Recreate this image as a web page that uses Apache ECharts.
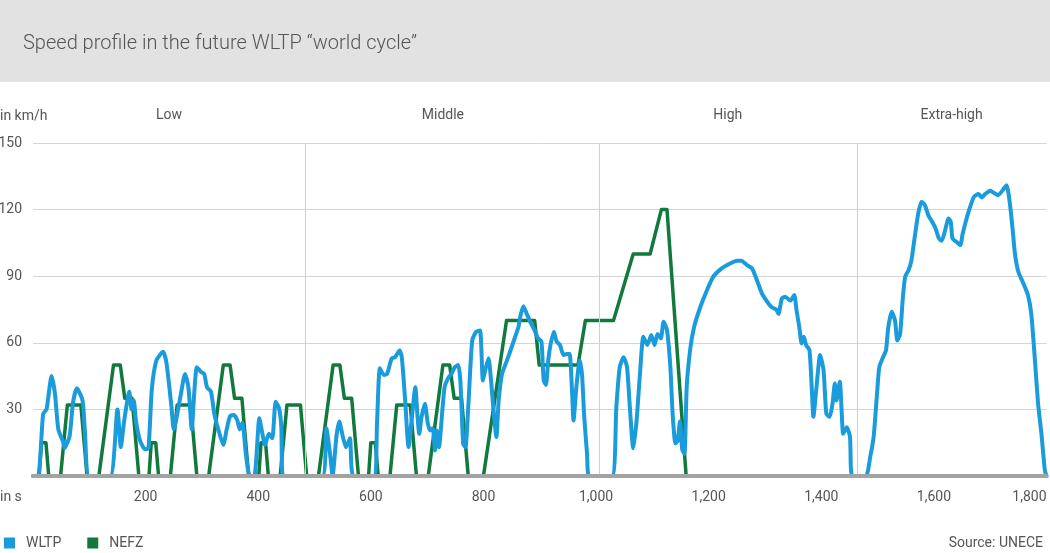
<!DOCTYPE html>
<html>
<head>
<meta charset="utf-8">
<title>WLTP speed profile</title>
<script src="https://cdn.jsdelivr.net/npm/echarts@6/dist/echarts.min.js"></script>
<style>
  html, body { margin: 0; padding: 0; background: #fff; }
  #main { width: 1050px; height: 553px; }
</style>
</head>
<body>
<div id="main"></div>
<script>
// speed in km/h over time in s
var wltp = [
  [0,0],[9,0],[18,28],[24,30],[33,45],[39,37],[45,21],[54,15],[56,12.5],[65,18],[71,33],[78,39.5],
  [88,34],[92,21],[100,0],[137,0],[150,30],[156,13],[162,25],[171,38],[175,30],[179,34],[183,24.5],
  [190,16],[199,12],[205,12.5],[211,39],[219,52],[231,56],[237,51],[246,31],[250,21],[262,36],
  [270,46],[276,40],[282,21],[286,36],[291,49],[298,47],[304,46],[309,40],[316,38],[322,28],[329,21],
  [338,14],[344,21],[350,27],[357,27.5],[363,25],[367,21],[372,24],[378,10],[385,0],[393,0],[402,26],
  [406,21],[412,14],[419,19],[425,17],[431,33.5],[437,30.5],[441,22],[444,0],
  [514,0],[521,21.5],[528,9],[532,0],[539,18],[544,24.5],[550,18],[556,13],[563,17],[569,0],
  [605,0],[611,24],[616,48.5],[623,45.5],[629,46],[637,53],[643,53.5],[651,56.5],[655,53.5],[661,34],
  [667,13],[673,26.5],[679,40],[683,26.5],[686,19],[690,26.5],[696,32.5],[701,24],[705,20.5],[710,21.5],
  [714,11.5],[717,20.5],[721,13],[727,29.5],[731,40],[737,44],[743,46],[749,49],[755,50],[759,43],
  [764,14.5],[768,13],[773,31],[780,61],[787,65],[794,65.5],[799,43],[803,47.5],[809,53],[813,44.5],
  [818,29.5],[823,17.5],[827,34],[833,46],[841,51.5],[850,58],[856,62.5],[862,67],[866,72.5],[871,76.5],
  [877,73],[884,69],[891,65.5],[897,62],[903,60.5],[907,43],[911,41],[915,52],[919,59],[925,65],
  [930,60.5],[936,59],[942,54.5],[948,55],[953,55],[957,40],[960,25],[965,40],[971,52],[975,46],
  [979,26.7],[984,10],[988,0],
  [1028,0],[1036,31],[1042,49],[1049,53.5],[1055,49],[1060,31],[1066,12.5],[1072,25],[1078,46],
  [1084,62.7],[1091,59],[1098,63.5],[1104,59],[1109,64],[1115,62],[1120,69.5],[1126,65.7],[1132,49],
  [1136,28],[1141,14.7],[1145,16],[1149,24.5],[1153,12],[1157,10],[1161,40],[1167,56.7],[1174,67],
  [1185,76],[1197,83.7],[1208,89.7],[1223,93.5],[1238,95.7],[1250,97],[1258,97],[1268,95],[1277,93.5],
  [1286,88],[1295,82],[1304,78.5],[1312,76],[1320,75],[1324,73],[1330,80],[1336,80.7],[1345,79],
  [1352,81.5],[1356,74.7],[1361,67],[1365,59.7],[1369,62.7],[1373,59],[1379,56.7],[1383,40],[1386,26.7],
  [1391,38.7],[1398,54.5],[1404,47.7],[1409,28],[1415,26.7],[1420,32.7],[1424,41.7],[1427,34],
  [1433,42.5],[1436,30],[1439,19],[1445,22],[1451,17.7],[1455,0],
  [1479,0],[1487,8.7],[1493,17.7],[1499,37],[1503,49],[1510,53.7],[1515,56.7],[1519,67],[1525,74],
  [1531,70],[1535,61],[1540,64],[1545,80.7],[1549,89.7],[1555,92.7],[1560,97],[1566,107.7],[1572,118],
  [1578,123.5],[1584,122],[1590,117.5],[1597,114.5],[1603,111.5],[1609,107],[1614,106],[1620,110.7],
  [1626,116],[1630,114.5],[1633,107],[1640,105.5],[1647,104],[1651,109],[1657,115],[1664,121],
  [1671,125.7],[1679,127],[1685,125.5],[1691,127],[1700,128.5],[1707,127.5],[1714,126.5],[1722,128.7],
  [1729,131],[1735,122.7],[1740,110.7],[1744,100],[1750,92],[1759,86.7],[1767,81.5],[1773,73],
  [1779,53.7],[1785,32.7],[1791,19],[1797,2.7],[1800,0]
];

// NEFZ: four city cycles + one extra-urban part
var nefz = [
  [0,0],[11,0],[15,15],[23,15],[28,0],[49,0],[61,32],[85,32],[96,0],[117,0],[143,50],[155,50],[163,35],[176,35],[188,0],
  [206,0],[210,15],[218,15],[223,0],[244,0],[256,32],[280,32],[291,0],[312,0],[338,50],[350,50],[358,35],[371,35],[383,0],
  [401,0],[405,15],[413,15],[418,0],[439,0],[451,32],[475,32],[486,0],[507,0],[533,50],[545,50],[553,35],[566,35],[578,0],
  [596,0],[600,15],[608,15],[613,0],[634,0],[646,32],[670,32],[681,0],[702,0],[728,50],[740,50],[748,35],[761,35],[773,0],
  [800,0],[841,70],[891,70],[899,50],[968,50],[981,70],[1031,70],[1066,100],[1096,100],[1116,120],[1126,120],[1160,0],[1180,0]
];

var phaseNames = ['Low', 'Middle', 'High', 'Extra-high'];
var phaseBounds = [0, 483, 1005, 1463, 1800];

var chart = echarts.init(document.getElementById('main'));

var areas = [];
for (var i = 0; i < phaseNames.length; i++) {
  var a = [{ xAxis: phaseBounds[i], name: phaseNames[i] }, { xAxis: phaseBounds[i + 1] }];
  if (phaseNames[i] === 'Middle') a[0].label = { offset: [-9, 0] };
  areas.push(a);
}

var grey = '#555';
var font = 'Roboto, "Noto Sans", sans-serif';

var option = {
  animation: false,
  textStyle: { fontFamily: font },
  graphic: [
    { type: 'rect', z: -10, shape: { x: 0, y: 0, width: 1050, height: 82 }, style: { fill: '#e2e2e2' } }
  ],
  title: [
    { text: 'Speed profile in the future WLTP \u201Cworld cycle\u201D', left: 18, top: 29,
      textStyle: { fontSize: 20, fontWeight: 300, color: grey, fontFamily: font } },
    { text: 'in km/h', left: -5, top: 104, textStyle: { fontSize: 14, fontWeight: 'normal', color: grey, fontFamily: font } },
    { text: 'in s', left: -5, top: 485, textStyle: { fontSize: 14, fontWeight: 'normal', color: grey, fontFamily: font } },
    { text: 'Source: UNECE', right: 2, top: 531, textStyle: { fontSize: 14, fontWeight: 'normal', color: grey, fontFamily: font } }
  ],
  legend: {
    data: ['WLTP', 'NEFZ'],
    left: -1,
    top: 531,
    icon: 'rect',
    itemWidth: 11,
    itemHeight: 11,
    itemGap: 26,
    textStyle: { fontSize: 14, color: grey, padding: [0, 0, 0, 6] }
  },
  grid: { left: 33, right: 3.5, top: 143, bottom: 77, outerBoundsMode: 'none', containLabel: false },
  xAxis: {
    type: 'value',
    min: 0,
    max: 1800,
    interval: 200,
    z: 10,
    axisLine: { show: true, lineStyle: { color: '#a3a3a3', width: 4 } },
    axisTick: { show: false },
    splitLine: { show: false },
    axisLabel: {
      color: grey,
      fontSize: 14,
      margin: 14,
      alignMaxLabel: 'right',
      formatter: function (v) { return v === 0 ? '' : v.toLocaleString('en-US'); }
    }
  },
  yAxis: {
    type: 'value',
    min: 0,
    max: 150,
    interval: 30,
    axisLine: { show: false },
    axisTick: { show: false },
    splitLine: { lineStyle: { color: '#d5d5d5', width: 1 } },
    axisLabel: {
      color: grey,
      fontSize: 14,
      margin: 11,
      formatter: function (v) { return v === 0 ? '' : v; }
    }
  },
  series: [
    {
      name: 'NEFZ',
      type: 'line',
      data: nefz,
      z: 3,
      symbol: 'none',
      color: '#12793d',
      lineStyle: { width: 3.5, color: '#12793d', join: 'round' },
      markLine: {
        silent: true,
        symbol: 'none',
        label: { show: false },
        lineStyle: { color: '#cfcfcf', width: 1, type: 'solid' },
        data: [{ xAxis: phaseBounds[1] }, { xAxis: phaseBounds[2] }, { xAxis: phaseBounds[3] }]
      },
      markArea: {
        silent: true,
        itemStyle: { color: 'rgba(0,0,0,0)' },
        label: { show: true, position: 'top', distance: 21, color: grey, fontSize: 14, fontFamily: font },
        data: areas
      }
    },
    {
      name: 'WLTP',
      type: 'line',
      data: wltp,
      z: 4,
      symbol: 'none',
      smooth: 0.2,
      color: '#1a9bdb',
      lineStyle: { width: 4, color: '#1a9bdb', join: 'round', cap: 'round' }
    }
  ]
};

chart.setOption(option);
</script>
</body>
</html>
